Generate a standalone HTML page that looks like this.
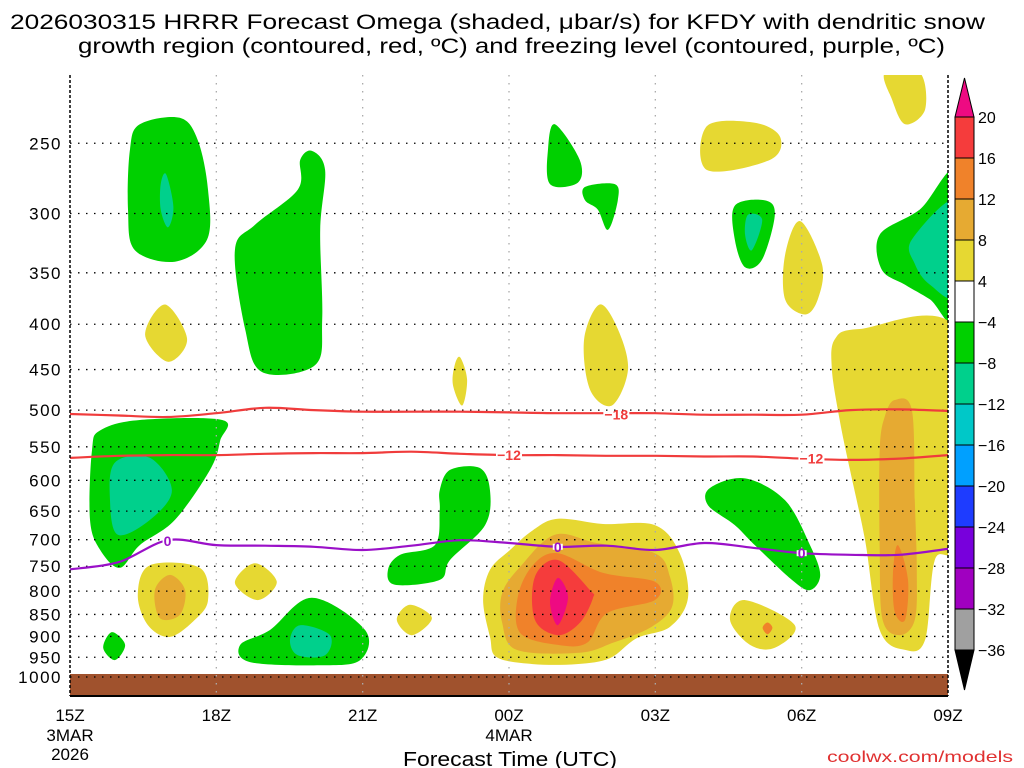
<!DOCTYPE html>
<html><head><meta charset="utf-8">
<style>
body{margin:0;background:#fff;}
svg{display:block;font-family:"Liberation Sans","DejaVu Sans",sans-serif;}
</style></head>
<body>
<svg id="chart" width="1024" height="768" viewBox="0 0 1024 768" xmlns="http://www.w3.org/2000/svg">
<text x="10" y="29" font-size="21" textLength="975" lengthAdjust="spacingAndGlyphs" fill="#000">2026030315 HRRR Forecast Omega (shaded, μbar/s) for KFDY with dendritic snow</text>
<text x="78" y="53" font-size="21" textLength="867" lengthAdjust="spacingAndGlyphs" fill="#000">growth region (contoured, red, ºC) and freezing level (contoured, purple, ºC)</text>
<g id="fills"></g>
<g id="grid"></g>
<g id="lines"></g>
<g id="axes"></g>
<g id="cbar"></g>
<text x="403" y="766" font-size="20" textLength="214" lengthAdjust="spacingAndGlyphs" fill="#000">Forecast Time (UTC)</text>
<text x="827" y="762" font-size="16" textLength="186" lengthAdjust="spacingAndGlyphs" fill="#e03030">coolwx.com/models</text>
</svg>
<script>
// ---- data ----
const pressureTicks=[250,300,350,400,450,500,550,600,650,700,750,800,850,900,950,1000];
const timeTickHours=[0,3,6,9,12,15,18];
const timeTickLabels=["15Z","18Z","21Z","00Z","03Z","06Z","09Z"];
const timeTickSub=[["3MAR","2026"],[],[],["4MAR"],[],[],[]];
const cbarLevels=[20,16,12,8,4,-4,-8,-12,-16,-20,-24,-28,-32,-36];
const cbarColors=["#ee0a82","#f53c3c","#f0822a","#e6aa32","#e6d832","#ffffff","#00d000","#00d08c","#00c8c8","#00a0ff","#1e3cff","#7800dc","#a000c0","#a0a0a0","#000000"];
const contourHours=[0,1,2,3,4,5,6,7,8,9,10,11,12,13,14,15,16,17,18];
const isoM18=[505,507,509,504,497,500,502,502,502,503,504,504,504,506,506,506,500,499,501];
const isoM12=[566,563,562,562,560,559,559,557,560,562,562,563,563,564,564,567,569,567,562];
const iso0=[756,742,701,710,711,713,719,711,701,706,713,711,719,706,715,725,728,728,717];
const contourLabels=[["-18",11.2,506,"#f03c3c"],["-12",9.0,562,"#f03c3c"],["-12",15.2,567,"#f03c3c"],["0",2.0,702,"#9a10c8"],["0",10.0,713,"#9a10c8"],["0",15.0,725,"#9a10c8"]];
// shaded omega regions: [colorIndex, [[hour,hPa],...]]
const blobG1=[[1.43,238],[2.25,234],[2.62,248],[2.83,282],[2.81,321],[2.15,340],[1.33,330],[1.19,297],[1.23,254]];
const blobT1=[[1.97,271],[2.12,295],[2.01,311],[1.86,297],[1.86,278]];
const blobG2=[[4.96,255],[5.23,268],[5.13,313],[5.17,395],[5.02,445],[3.94,453],[3.59,405],[3.38,330],[3.79,309],[4.67,282],[4.72,261]];
const blobG3=[[0.62,527],[1.43,513],[3.12,513],[3.08,541],[2.87,584],[2.15,665],[1.43,710],[1.02,753],[0.62,719],[0.41,665],[0.45,555]];
const blobT3=[[0.92,573],[1.64,566],[2.09,616],[1.64,665],[0.98,691],[0.82,632]];
const blobY1=[[1.95,380],[2.4,416],[2.01,441],[1.54,411]];
const blobY2=[[1.64,748],[2.66,753],[2.83,819],[2.56,862],[2.05,901],[1.6,874],[1.39,808]];
const blobO2=[[2.05,767],[2.36,798],[2.25,851],[1.84,858],[1.74,798]];
const blobY3=[[3.79,744],[4.24,781],[3.85,819],[3.38,783]];
const blobG4=[[4.96,814],[6.05,885],[5.95,957],[5.13,970],[3.69,962],[3.49,920],[4.1,885]];
const blobT4=[[4.72,874],[5.33,897],[5.23,945],[4.67,945],[4.51,908]];
const blobG5=[[0.86,890],[1.13,920],[0.92,957],[0.68,927]];
const blobG6=[[7.79,584],[8.4,581],[8.61,616],[8.51,674],[7.79,738],[7.58,777],[6.66,787],[6.52,757],[6.77,728],[7.48,710],[7.58,649],[7.58,616]];
const blobY4=[[8.0,436],[8.14,462],[8.04,494],[7.85,468],[7.89,444]];
const blobY5=[[6.97,829],[7.42,858],[7.01,897],[6.7,862]];
const blobYbig=[[10.0,663],[10.93,672],[11.99,674],[12.5,725],[12.67,814],[12.3,878],[11.62,904],[11.07,952],[10.39,967],[9.49,967],[8.75,950],[8.61,901],[8.47,819],[8.61,757],[9.02,719],[9.49,683]];
const blobLObig=[[9.94,691],[10.8,706],[11.99,725],[12.3,771],[12.34,834],[11.89,880],[11.13,915],[10.45,939],[9.16,932],[8.86,869],[8.86,804],[9.23,751]];
const blobObig=[[10.0,725],[10.93,763],[11.99,781],[11.99,819],[11.01,847],[10.6,915],[10.0,920],[9.23,892],[9.18,812],[9.49,748]];
const blobRbig=[[10.0,738],[10.66,798],[10.72,815],[10.45,869],[10.0,897],[9.53,862],[9.53,771]];
const blobMbig=[[10.0,773],[10.21,813],[10.0,874],[9.84,823]];
const blobG7=[[9.94,238],[10.45,261],[10.41,277],[9.84,278],[9.8,254]];
const blobG8=[[10.56,280],[11.17,278],[11.23,290],[11.03,313],[10.82,297],[10.56,290]];
const blobY6=[[10.86,380],[11.23,405],[11.44,450],[11.11,494],[10.66,474],[10.54,416]];
const blobY7=[[13.06,239],[14.04,237],[14.56,246],[14.35,261],[13.06,268]];
const blobG9=[[13.63,294],[14.25,290],[14.45,301],[14.19,338],[13.84,345],[13.63,321]];
const blobT9=[[13.9,301],[14.19,305],[13.98,330],[13.84,317]];
const blobY8=[[14.97,306],[15.42,343],[15.33,375],[15.07,390],[14.66,375],[14.66,334]];
const blobG10=[[13.12,612],[13.84,597],[14.66,632],[15.17,710],[15.38,767],[15.17,798],[14.8,777],[14.04,710],[13.63,674],[13.08,640]];
const blobY9=[[13.84,819],[14.86,874],[14.45,927],[13.94,920],[13.53,862]];
const blobO9=[[14.3,868],[14.4,880],[14.3,895],[14.2,880]];
const blobG11=[[16.6,317],[17.42,297],[18.2,270],[18.2,395],[17.63,375],[17.12,361],[16.64,347]];
const blobT11=[[17.26,321],[18.2,290],[18.2,370],[17.63,361],[17.32,342]];
const blobY10=[[16.71,208],[17.42,208],[17.53,229],[17.12,238],[16.85,223]];
const blobYright=[[15.68,416],[16.19,405],[18.2,408],[18.2,692],[17.73,738],[17.53,908],[17.12,932],[16.6,885],[16.3,701],[15.99,584],[15.78,513],[15.62,450]];
const blobLOright=[[16.91,487],[17.26,500],[17.32,632],[17.36,757],[17.32,862],[17.01,897],[16.66,862],[16.6,719],[16.6,555],[16.71,507]];
const blobOright=[[16.97,710],[17.18,777],[17.12,862],[16.91,845],[16.87,767]];
const regions=[[6,blobG1],[7,blobT1],[6,blobG2],[6,blobG3],[7,blobT3],[4,blobY1],[4,blobY2],[3,blobO2],[4,blobY3],[6,blobG4],[7,blobT4],[6,blobG5],[6,blobG6],[4,blobY4],[4,blobY5],[4,blobYbig],[3,blobLObig],[2,blobObig],[1,blobRbig],[0,blobMbig],[6,blobG7],[6,blobG8],[4,blobY6],[4,blobY7],[6,blobG9],[7,blobT9],[4,blobY8],[6,blobG10],[4,blobY9],[2,blobO9],[6,blobG11],[7,blobT11],[4,blobY10],[4,blobYright],[3,blobLOright],[2,blobOright]];
const regionNames=["green-upper-16z","teal-upper-16z","green-upper-20z","green-mid-16z","teal-mid-16z","yellow-400-17z","yellow-low-17z","orange-low-17z","yellow-low-19z","green-low-20z","teal-low-20z","green-small-16z","green-mid-23z","yellow-thin-23z","yellow-small-22z","yellow-core-01z","lightorange-core-01z","orange-core-01z","red-core-01z","magenta-core-01z","green-upper-00z","green-upper-02z","yellow-mid-02z","yellow-upper-04z","green-upper-05z","teal-upper-05z","yellow-upper-06z","green-mid-05z","yellow-low-05z","orange-low-05z","green-upper-09z","teal-upper-09z","yellow-top-08z","yellow-column-08z","lightorange-column-08z","orange-column-08z"];

// ---- scales ----
const X0=70,X1=948,Ybot=677,K=385,PT=75,PB=696;
const xs=h=>X0+h*(X1-X0)/18;
const ys=p=>Ybot-K*Math.log(1000/p);
const NS="http://www.w3.org/2000/svg";
function mk(tag,attrs,parent){const e=document.createElementNS(NS,tag);for(const k in attrs)e.setAttribute(k,attrs[k]);parent.appendChild(e);return e;}
function smoothClosed(pts){
  const n=pts.length;let d=`M${pts[0][0].toFixed(1)},${pts[0][1].toFixed(1)}`;
  for(let i=0;i<n;i++){const p0=pts[(i-1+n)%n],p1=pts[i],p2=pts[(i+1)%n],p3=pts[(i+2)%n];
    const c1=[p1[0]+(p2[0]-p0[0])/6,p1[1]+(p2[1]-p0[1])/6],c2=[p2[0]-(p3[0]-p1[0])/6,p2[1]-(p3[1]-p1[1])/6];
    d+=`C${c1[0].toFixed(1)},${c1[1].toFixed(1)} ${c2[0].toFixed(1)},${c2[1].toFixed(1)} ${p2[0].toFixed(1)},${p2[1].toFixed(1)}`;}
  return d+"Z";}
function smoothOpen(pts){
  const n=pts.length;let d=`M${pts[0][0].toFixed(1)},${pts[0][1].toFixed(1)}`;
  for(let i=0;i<n-1;i++){const p0=pts[Math.max(i-1,0)],p1=pts[i],p2=pts[i+1],p3=pts[Math.min(i+2,n-1)];
    const c1=[p1[0]+(p2[0]-p0[0])/6,p1[1]+(p2[1]-p0[1])/6],c2=[p2[0]-(p3[0]-p1[0])/6,p2[1]-(p3[1]-p1[1])/6];
    d+=`C${c1[0].toFixed(1)},${c1[1].toFixed(1)} ${c2[0].toFixed(1)},${c2[1].toFixed(1)} ${p2[0].toFixed(1)},${p2[1].toFixed(1)}`;}
  return d;}

// ---- fills ----
const fills=document.getElementById('fills');
const defs=mk('defs',{},fills);
const cp=mk('clipPath',{id:'plotclip'},defs);
mk('rect',{x:X0,y:PT,width:X1-X0,height:PB-PT},cp);
const fg=mk('g',{'clip-path':'url(#plotclip)'},fills);
regions.forEach((r,i)=>{
  const pts=r[1].map(q=>[xs(q[0]),ys(q[1])]);
  const el=mk('path',{d:smoothClosed(pts),fill:cbarColors[r[0]]},fg);
  
  
});
const ground=mk('rect',{x:X0,y:674,width:X1-X0,height:PB-674,fill:'#a0522d'},fg);



// ---- grid ----
const grid=document.getElementById('grid');
pressureTicks.forEach(p=>{
  const l=mk('line',{x1:X0,x2:X1,y1:ys(p),y2:ys(p),stroke:'#000','stroke-width':1.3,'stroke-dasharray':'1.5 6.5'},grid);
  
  
});
timeTickHours.forEach(h=>{
  if(h===0||h===18)return;
  const l=mk('line',{x1:xs(h),x2:xs(h),y1:PT,y2:PB,stroke:'#aaa','stroke-width':1.3,'stroke-dasharray':'1.5 6.5'},grid);
  
  
});

// ---- contour lines ----
const lines=document.getElementById('lines');
[[isoM18,'#f03c3c','isotherm-minus18'],[isoM12,'#f03c3c','isotherm-minus12'],[iso0,'#9a10c8','freezing-level-0c']].forEach(s=>{
  const pts=contourHours.map((h,i)=>[xs(h),ys(s[0][i])]);
  const el=mk('path',{d:smoothOpen(pts),fill:'none',stroke:s[1],'stroke-width':2.2},lines);
  
  
});
contourLabels.forEach(c=>{
  const x=xs(c[1]),y=ys(c[2]);
  const w=c[0].length*8+2;
  const bg=mk('rect',{x:x-w/2,y:y-3,width:w,height:6,fill:'#fff'},lines);
  
  
  const t=mk('text',{x:x,y:y+5,'font-size':14,'font-weight':'bold','text-anchor':'middle',fill:c[3]},lines);
  t.textContent=c[0].replace('-','−');
  
  
});

// ---- axes ----
const axes=document.getElementById('axes');
mk('line',{x1:X0,x2:X0,y1:PT,y2:PB,stroke:'#000','stroke-width':1.5,'stroke-dasharray':'3 2'},axes);
mk('line',{x1:X1,x2:X1,y1:PT,y2:PB,stroke:'#000','stroke-width':1.5,'stroke-dasharray':'3 2'},axes);
mk('line',{x1:X0,x2:X1,y1:PB,y2:PB,stroke:'#000','stroke-width':2},axes);
pressureTicks.forEach(p=>{
  const s=String(p);
  const t=mk('text',{x:62,y:ys(p)+6,'font-size':17,'text-anchor':'end',fill:'#000','letter-spacing':1.5},axes);
  t.textContent=s;
  
  
});
timeTickHours.forEach((h,i)=>{
  const x=xs(h);
  const t=mk('text',{x:x,y:721,'font-size':17,'text-anchor':'middle',fill:'#000'},axes);
  t.textContent=timeTickLabels[i];
  
  
  timeTickSub[i].forEach((s,j)=>{
    const u=mk('text',{x:x,y:741+j*19,'font-size':17,'text-anchor':'middle',fill:'#000'},axes);
    u.textContent=s;
    
    
  });
});

// ---- colorbar ----
const cb=document.getElementById('cbar');
const cbX=955,cbW=19,cbTop=117,cbStep=41;
const tri1=mk('polygon',{points:`${cbX},${cbTop} ${cbX+cbW},${cbTop} ${cbX+cbW/2},78`,fill:cbarColors[0],stroke:'#000','stroke-width':1},cb);


for(let i=1;i<cbarColors.length-1;i++){
  const r=mk('rect',{x:cbX,y:cbTop+(i-1)*cbStep,width:cbW,height:cbStep,fill:cbarColors[i],stroke:'#000','stroke-width':1},cb);
  
  
}
const yb=cbTop+(cbarColors.length-2)*cbStep;
const tri2=mk('polygon',{points:`${cbX},${yb} ${cbX+cbW},${yb} ${cbX+cbW/2},690`,fill:'#000',stroke:'#000','stroke-width':1},cb);


cbarLevels.forEach((v,i)=>{
  const t=mk('text',{x:978,y:cbTop+i*cbStep+6,'font-size':16,fill:'#000'},cb);
  t.textContent=v<0?'−'+(-v):String(v);
  
  
});
</script>
</body></html>
